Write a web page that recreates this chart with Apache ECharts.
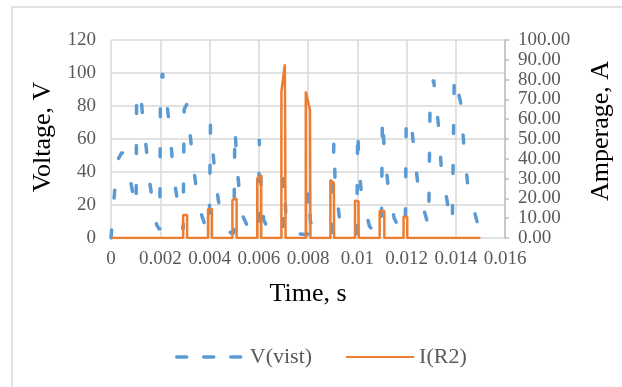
<!DOCTYPE html>
<html>
<head>
<meta charset="utf-8">
<script src="https://cdn.jsdelivr.net/npm/echarts@6/dist/echarts.min.js"></script>
<style>
  html, body { margin: 0; padding: 0; background: #fff; }
  #chart { width: 622px; height: 387px; }
</style>
</head>
<body>
<div id="chart"></div>
<script>
// voltage V(vist), time in s
const voltTime = [0, 0.0001, 0.0002, 0.0003, 0.00045, 0.0006, 0.00075, 0.00095, 0.00102,
  0.00104, 0.0012, 0.0013, 0.00143, 0.00153, 0.00169, 0.00185, 0.00198,
  0.00201, 0.00209, 0.00229, 0.00241, 0.00249, 0.00261, 0.00277, 0.00293,
  0.00297, 0.00308, 0.00317, 0.00329, 0.00341, 0.00357, 0.0039,
  0.00399, 0.00404, 0.00425, 0.00441, 0.00485,
  0.00499, 0.00503, 0.00515, 0.0053, 0.0057,
  0.00599, 0.00602, 0.0061, 0.0062, 0.0065,
  0.00698, 0.00701, 0.0071, 0.00725,
  0.00798, 0.00801, 0.0081, 0.0083,
  0.00898, 0.00905, 0.0091, 0.0093, 0.0095,
  0.00998, 0.01002, 0.01006, 0.01017, 0.0105, 0.0108,
  0.01098, 0.01102, 0.0111, 0.01125, 0.0115, 0.0118,
  0.01195, 0.01199, 0.0122, 0.01234, 0.0125, 0.0129,
  0.01291, 0.01296, 0.0131, 0.0133, 0.01341, 0.0137, 0.01386,
  0.0139, 0.01394, 0.0142, 0.01433, 0.0145, 0.0149, 0.015];
const voltValue = [0, 20, 37, 48, 52, 47, 38, 22, 18,
  85, 90, 70, 55, 38, 22, 8, 5,
  93, 100, 79, 63, 47, 31, 16, 5,
  78, 81, 69, 52, 36, 19, 4,
  3, 69, 34, 18, 3,
  3, 67, 38, 15, 2,
  2, 60, 30, 11, 2,
  2, 38, 15, 3,
  2, 30, 10, 2,
  2, 59, 35, 9, 2,
  2, 67, 47, 26, 7, 2,
  2, 74, 53, 32, 12, 3,
  3, 74, 69, 48, 28, 7,
  7, 86, 96, 68, 43, 18, 8,
  8, 99, 82, 56, 30, 8, 5];

// current I(R2), A
const ampTime = [0, 0.00293, 0.00293, 0.00309, 0.00309, 0.00394, 0.00394, 0.0041, 0.0041,
  0.00493, 0.00493, 0.0051, 0.0051, 0.00594, 0.00594, 0.0061, 0.0061,
  0.00692, 0.00692, 0.00706, 0.00709, 0.00791, 0.00791, 0.00808, 0.0081,
  0.00891, 0.00891, 0.00905, 0.00906, 0.00991, 0.00991, 0.01005, 0.01006,
  0.01091, 0.01091, 0.0111, 0.0111, 0.01188, 0.01188, 0.01203, 0.01203, 0.015];
const ampValue = [0, 0, 11.6, 11.6, 0, 0, 14.6, 14.6, 0,
  0, 19.2, 19.9, 0, 0, 30, 31.8, 0,
  0, 74, 87.7, 0, 0, 74, 64.6, 0,
  0, 29.3, 27.8, 0, 0, 18.9, 18.5, 0,
  0, 13.6, 13.6, 0, 0, 10.8, 10.6, 0, 0];

const seriesNames = ['V(vist)', 'I(R2)'];

const zip = (xs, ys) => xs.map((x, i) => [x, ys[i]]);

const serif = 'Liberation Serif, Times New Roman, serif';
const gridColor = '#d9d9d9';

var myChart = echarts.init(document.getElementById('chart'));
myChart.setOption({
  animation: false,
  backgroundColor: '#fff',
  graphic: [{
    type: 'rect',
    shape: { x: 12, y: 7, width: 720, height: 500 },
    style: { fill: 'none', stroke: gridColor, lineWidth: 1.5 },
    silent: true
  }],
  grid: { left: 111, right: 112, top: 40, bottom: 149 },
  legend: {
    left: 170,
    top: 341,
    itemWidth: 68,
    itemHeight: 14,
    itemGap: 33,
    itemStyle: { opacity: 0 }, // no marker dot on the legend lines
    textStyle: { fontFamily: serif, fontSize: 22, color: '#595959' },
    data: [
      { name: seriesNames[0], lineStyle: { type: [10, 17], width: 3.5, cap: 'round' } },
      { name: seriesNames[1] }
    ]
  },
  xAxis: {
    type: 'value',
    min: 0,
    max: 0.016,
    interval: 0.002,
    name: 'Time, s',
    nameLocation: 'middle',
    nameGap: 43,
    nameTextStyle: { fontFamily: serif, fontSize: 26, color: '#000' },
    axisLine: { show: false },
    axisTick: { show: false },
    axisLabel: {
      fontFamily: serif, fontSize: 19, color: '#595959', margin: 12,
      formatter: v => String(+v.toFixed(3))
    },
    splitLine: { show: true, lineStyle: { color: gridColor, width: 1.5 } }
  },
  yAxis: [{
    type: 'value',
    min: 0,
    max: 120,
    interval: 20,
    name: 'Voltage, V',
    nameLocation: 'middle',
    nameRotate: 90,
    nameGap: 50,
    nameTextStyle: { fontFamily: serif, fontSize: 26, color: '#000', padding: [0, 0, 0, 4] },
    axisLine: { show: false },
    axisTick: { show: false },
    axisLabel: { fontFamily: serif, fontSize: 19, color: '#595959', margin: 15 },
    splitLine: { show: true, lineStyle: { color: gridColor, width: 1.5 } }
  }, {
    type: 'value',
    min: 0,
    max: 100,
    interval: 10,
    position: 'right',
    name: 'Amperage, A',
    nameLocation: 'middle',
    nameRotate: 90,
    nameGap: 83,
    nameTextStyle: { fontFamily: serif, fontSize: 26, color: '#000', padding: [0, 0, 0, 16] },
    axisLine: { show: true, lineStyle: { color: '#bfbfbf', width: 1.5 } },
    axisTick: { show: true, inside: false, length: 4, lineStyle: { color: '#bfbfbf', width: 1.5 } },
    axisLabel: {
      fontFamily: serif, fontSize: 19, color: '#595959', margin: 13,
      formatter: v => v.toFixed(2)
    },
    splitLine: { show: false }
  }],
  series: [{
    name: seriesNames[0],
    type: 'line',
    yAxisIndex: 0,
    symbol: 'none',
    showSymbol: false,
    data: zip(voltTime, voltValue),
    lineStyle: { color: '#5b9bd5', width: 3.5, type: [8, 32], cap: 'round' },
    itemStyle: { color: '#5b9bd5' },
    z: 2
  }, {
    name: seriesNames[1],
    type: 'line',
    yAxisIndex: 1,
    symbol: 'none',
    showSymbol: false,
    data: zip(ampTime, ampValue),
    lineStyle: { color: '#ed7d31', width: 2.5 },
    itemStyle: { color: '#ed7d31' },
    z: 3
  }]
});
</script>
</body>
</html>
